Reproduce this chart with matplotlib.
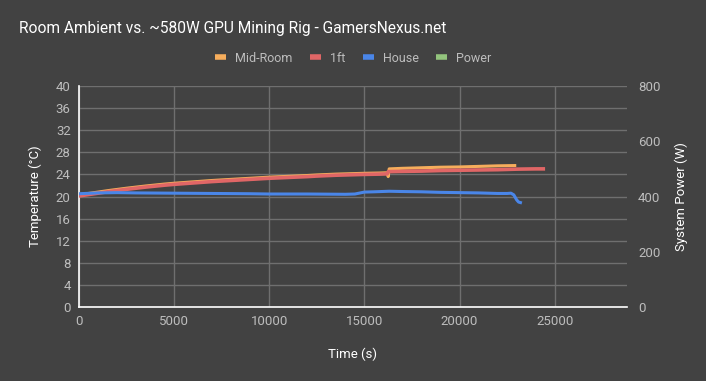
import numpy as np
import matplotlib.pyplot as plt
from matplotlib.lines import Line2D

plt.rcParams['font.family'] = ['Roboto', 'DejaVu Sans']

# Data (time in s, temperature in C)
mid_t = [0, 800, 1600, 2500, 3500, 4500, 5000, 6000, 7000, 7500, 8500, 9500, 10000,
         11000, 12000, 12500, 13500, 14500, 15000, 15800, 16200, 16250, 16300, 17000,
         18000, 19000, 20000, 21000, 22000, 22900]
mid_c = [20.3, 20.7, 21.1, 21.5, 21.9, 22.25, 22.4, 22.65, 22.9, 23.0, 23.2, 23.4, 23.5,
         23.65, 23.8, 23.9, 24.05, 24.15, 24.2, 24.25, 24.3, 23.6, 25.0, 25.1,
         25.2, 25.3, 25.35, 25.45, 25.55, 25.6]

ft_t = [0, 800, 1600, 2500, 3500, 4500, 5000, 6000, 7000, 7500, 8500, 9500, 10000,
        11000, 12000, 12500, 13500, 14500, 15000, 15800, 16200, 16250, 17000, 18000,
        19000, 20000, 21000, 22000, 23000, 24000, 24400]
ft_c = [20.1, 20.5, 20.9, 21.3, 21.7, 22.05, 22.2, 22.45, 22.7, 22.8, 23.0, 23.2, 23.3,
        23.45, 23.6, 23.7, 23.85, 23.95, 24.0, 24.05, 24.1, 24.5, 24.55, 24.6,
        24.7, 24.75, 24.8, 24.85, 24.95, 25.0, 25.0]

house_t = [0, 1000, 2000, 3000, 5000, 7000, 9000, 10000, 12000, 14000, 14500, 15000,
           15500, 16300, 17000, 18000, 19000, 20000, 21000, 22000, 22500, 22700, 22850,
           23000, 23100, 23200]
house_c = [20.5, 20.65, 20.7, 20.65, 20.6, 20.55, 20.5, 20.45, 20.45, 20.4, 20.45, 20.8,
           20.85, 20.95, 20.9, 20.85, 20.75, 20.7, 20.65, 20.55, 20.55, 20.6, 20.3,
           19.4, 19.0, 18.9]

power_t = []
power_w = []

series = ['Mid-Room', '1ft', 'House', 'Power']
colors = ['#f6ad5c', '#e06666', '#4a86e8', '#93c47d']

bg = '#424242'
grid_c = '#6f6f6f'
tick_c = '#bdbdbd'

fig = plt.figure(figsize=(7.06, 3.81), dpi=100, facecolor=bg)
ax = fig.add_axes([79/706, 1 - 307/381, (627-79)/706, (307-86)/381])
ax.set_facecolor(bg)

ax.plot(mid_t, mid_c, color=colors[0], lw=2.2, zorder=2)
ax.plot(ft_t, ft_c, color=colors[1], lw=2.6, zorder=3)
ax.plot(house_t, house_c, color=colors[2], lw=2.2, zorder=4)

ax.set_xlim(0, 28800)
ax.set_ylim(0, 40)
ax.set_xticks(np.arange(0, 25001, 5000))
ax.set_yticks(np.arange(0, 41, 4))
ax.grid(True, color=grid_c, lw=1)
ax.set_axisbelow(True)
for s in ['top', 'right']:
    ax.spines[s].set_visible(False)
for s in ['left', 'bottom']:
    ax.spines[s].set_color('white')
    ax.spines[s].set_linewidth(1.2)
ax.tick_params(length=0, colors=tick_c, labelsize=9.5, pad=6)
ax.set_xlabel('Time (s)', color='white', fontsize=9.5, labelpad=14)
ax.set_ylabel('Temperature (°C)', color='white', fontsize=9.5, labelpad=10)

ax2 = ax.twinx()
ax2.plot(power_t, power_w, color=colors[3], lw=2.4)
ax2.set_ylim(0, 800)
ax2.set_yticks([0, 200, 400, 600, 800])
for s in ax2.spines.values():
    s.set_visible(False)
ax2.tick_params(length=0, colors=tick_c, labelsize=9.5, pad=8)
ax2.set_ylabel('System Power (W)', color='white', fontsize=9.5, labelpad=10)

fig.text(19/706, 1 - 28/381, 'Room Ambient vs. ~580W GPU Mining Rig - GamersNexus.net',
         color='white', fontsize=11.2, va='center', ha='left')

handles = [Line2D([], [], color=c, lw=4, solid_capstyle='butt') for c in colors]
leg = fig.legend(handles, series, loc='center', bbox_to_anchor=(353/706, 1 - 58/381),
                 ncol=4, frameon=False, fontsize=9, handlelength=0.9,
                 columnspacing=1.4, handletextpad=0.7, labelcolor=tick_c)

fig.savefig('out.png', dpi=100, facecolor=bg)
